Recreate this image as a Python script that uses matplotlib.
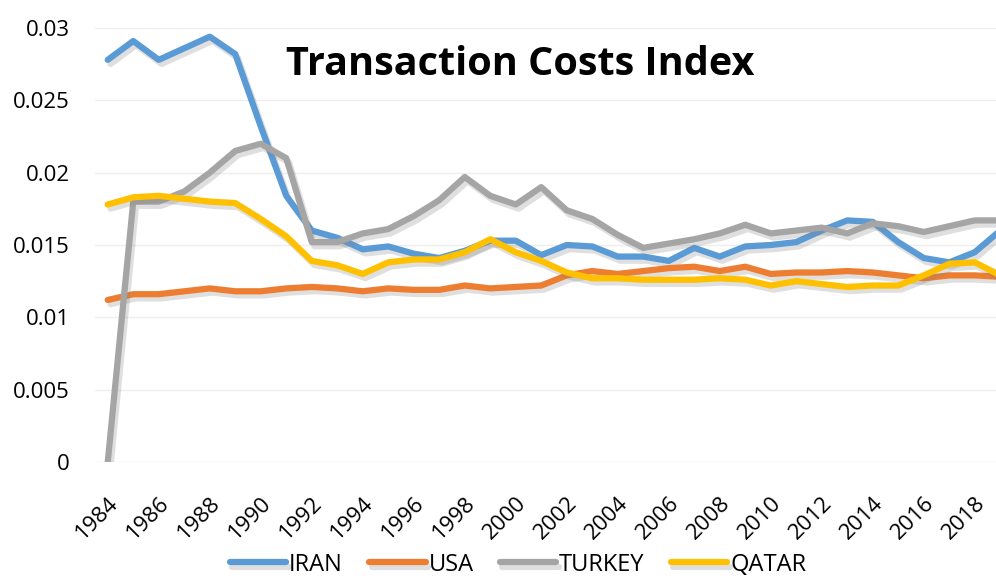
import numpy as np
import matplotlib.pyplot as plt
import matplotlib.patheffects as pe

plt.rcParams["font.family"] = ["Open Sans", "DejaVu Sans"]

years = np.arange(1984, 2020)

iran = [0.0278, 0.0291, 0.0278, 0.0286, 0.0294, 0.0282, 0.0232, 0.0184, 0.0160, 0.0155,
        0.0147, 0.0149, 0.0144, 0.0141, 0.0146, 0.0153, 0.0153, 0.0143, 0.0150, 0.0149,
        0.0142, 0.0142, 0.0139, 0.0148, 0.0142, 0.0149, 0.0150, 0.0152, 0.0160, 0.0167,
        0.0166, 0.0152, 0.0141, 0.0138, 0.0145, 0.0160]
usa = [0.0112, 0.0116, 0.0116, 0.0118, 0.0120, 0.0118, 0.0118, 0.0120, 0.0121, 0.0120,
       0.0118, 0.0120, 0.0119, 0.0119, 0.0122, 0.0120, 0.0121, 0.0122, 0.0129, 0.0132,
       0.0130, 0.0132, 0.0134, 0.0135, 0.0132, 0.0135, 0.0130, 0.0131, 0.0131, 0.0132,
       0.0131, 0.0129, 0.0127, 0.0129, 0.0129, 0.0128]
turkey = [0.0, 0.0180, 0.0180, 0.0187, 0.0200, 0.0215, 0.0220, 0.0210, 0.0152, 0.0152,
          0.0158, 0.0161, 0.0170, 0.0181, 0.0197, 0.0184, 0.0178, 0.0190, 0.0174, 0.0168,
          0.0157, 0.0148, 0.0151, 0.0154, 0.0158, 0.0164, 0.0158, 0.0160, 0.0162, 0.0158,
          0.0165, 0.0163, 0.0159, 0.0163, 0.0167, 0.0167]
qatar = [0.0178, 0.0183, 0.0184, 0.0182, 0.0180, 0.0179, 0.0168, 0.0156, 0.0139, 0.0136,
         0.0130, 0.0138, 0.0140, 0.0140, 0.0145, 0.0154, 0.0145, 0.0139, 0.0131, 0.0127,
         0.0127, 0.0126, 0.0126, 0.0126, 0.0127, 0.0126, 0.0122, 0.0125, 0.0123, 0.0121,
         0.0122, 0.0122, 0.0129, 0.0137, 0.0138, 0.0129]

series = [("IRAN", iran, "#5b9bd5"), ("USA", usa, "#ed7d31"),
          ("TURKEY", turkey, "#a5a5a5"), ("QATAR", qatar, "#ffc000")]

fig = plt.figure(figsize=(9.96, 5.81), dpi=100)
ax = fig.add_axes([95 / 996, 119 / 581, 918 / 996, 434 / 581])

shadow = [pe.SimpleLineShadow(offset=(2, -3), shadow_color="gray", alpha=0.25, rho=1),
          pe.Normal()]
for name, vals, col in series:
    ax.plot(years, vals, color=col, lw=4.5, label=name, solid_capstyle="round",
            path_effects=shadow)

ax.set_xlim(1983.5, 2019.5)
ax.set_ylim(0, 0.03)
ax.set_yticks(np.arange(0, 0.0301, 0.005))
ax.set_yticklabels(["0", "0.005", "0.01", "0.015", "0.02", "0.025", "0.03"])
ax.set_xticks(years[::2])
ax.set_xticklabels([str(y) for y in years[::2]], rotation=45, ha="right",
                   rotation_mode="anchor")
ax.tick_params(axis="both", length=0, labelsize=16)
ax.tick_params(axis="y", pad=18)
ax.tick_params(axis="x", pad=22)
ax.grid(axis="y", color="#eeeeee", lw=1)
ax.set_axisbelow(True)
for s in ax.spines.values():
    s.set_visible(False)

fig.text(0.522, 1 - 75 / 581, "Transaction Costs Index", ha="center", va="baseline",
         fontsize=28.5, fontweight="bold")

fig.legend(loc="center", bbox_to_anchor=(0.52, 0.028), ncol=4, frameon=False,
           fontsize=17, handlelength=2.4, handletextpad=0.12, columnspacing=1.1,
           borderpad=0.1)

fig.savefig("out.png", dpi=100)
